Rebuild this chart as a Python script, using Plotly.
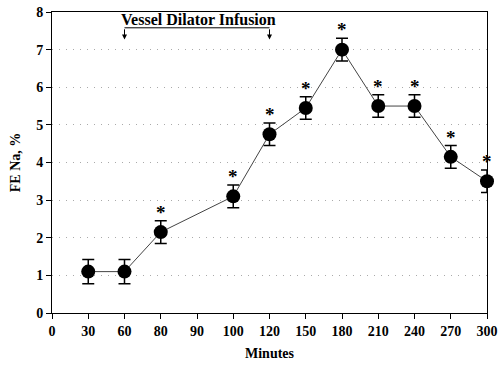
import plotly.graph_objects as go

tick_labels = ["0", "30", "60", "80", "90", "100", "120", "150", "180", "210", "240", "270", "300"]
minutes = ["30", "60", "80", "100", "120", "150", "180", "210", "240", "270", "300"]
fe_na = [1.1, 1.1, 2.15, 3.1, 4.75, 5.45, 7.0, 5.5, 5.5, 4.15, 3.5]
err = [0.32, 0.32, 0.3, 0.3, 0.3, 0.3, 0.3, 0.3, 0.3, 0.3, 0.3]
significant = [False, False, True, True, True, True, True, True, True, True, True]
infusion_start, infusion_end = "60", "120"

xi = [tick_labels.index(m) for m in minutes]
font = "Liberation Serif"

fig = go.Figure()
fig.add_trace(go.Scatter(
    x=xi, y=fe_na, mode="lines+markers",
    line=dict(color="#444", width=1),
    marker=dict(color="black", size=14),
    error_y=dict(type="data", array=err, color="black", thickness=1.5, width=6),
    cliponaxis=False, showlegend=False))
sx = [x for x, s in zip(xi, significant) if s]
sy = [y + e for y, e, s in zip(fe_na, err, significant) if s]
for x, y in zip(sx, sy):
    fig.add_annotation(x=x, y=y, yanchor="bottom", yshift=-4, showarrow=False,
                       text="<b>*</b>", font=dict(family=font, size=19, color="black"))

xs, xe = tick_labels.index(infusion_start), tick_labels.index(infusion_end)
fig.add_shape(type="line", x0=xs, x1=xe, y0=7.58, y1=7.58, line=dict(color="black", width=1))
for xx in (xs, xe):
    fig.add_annotation(x=xx, y=7.27, ax=xx, ay=7.58, axref="x", ayref="y",
                       showarrow=True, arrowhead=2, arrowsize=1, arrowwidth=1,
                       arrowcolor="black", text="")
fig.add_annotation(x=(xs + xe) / 2 + 0.05, y=7.58, yanchor="bottom", yshift=-2, showarrow=False,
                   text="<b>Vessel Dilator Infusion</b>",
                   font=dict(family=font, size=16, color="black"))

fig.update_layout(
    width=499, height=369,
    margin=dict(l=52, r=12, t=12, b=56),
    plot_bgcolor="white", paper_bgcolor="white",
    font=dict(family=font, color="black"),
    xaxis=dict(range=[0, 12], tickmode="array", tickvals=list(range(len(tick_labels))),
               ticktext=["<b>%s</b>" % t for t in tick_labels],
               tickfont=dict(size=14), showgrid=False, zeroline=False, automargin=False,
               showline=True, linecolor="black", linewidth=1, mirror=True,
               ticks="outside", ticklen=5, tickcolor="black",
               title=dict(text="<b>Minutes</b>", font=dict(size=14), standoff=10)),
    yaxis=dict(range=[0, 8], tickvals=list(range(9)),
               ticktext=["<b>%d</b>" % v for v in range(9)],
               tickfont=dict(size=14), showgrid=True, gridcolor="#aaa",
               griddash="1px,6px", gridwidth=1, zeroline=False, automargin=False,
               showline=True, linecolor="black", linewidth=1, mirror=True,
               ticks="outside", ticklen=5, tickcolor="black",
               title=dict(text="<b>FE Na, %</b>", font=dict(size=14), standoff=12)),
)
fig.write_html("out.html")
